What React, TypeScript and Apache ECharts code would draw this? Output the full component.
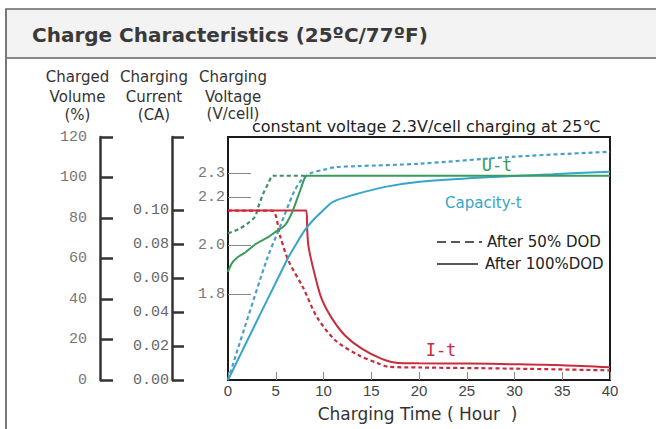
import React, { useEffect, useRef } from "react";
import * as echarts from "echarts";

// ---- data ----
const voltageTicks = [1.8, 2.0, 2.2, 2.3];
const volumeTicks = [0, 20, 40, 60, 80, 100, 120];
const currentLabels = [0, 0.02, 0.04, 0.06, 0.08, 0.1];
const currentTop = 0.1434;

// U-t (charging voltage, V/cell)
const voltage100: [number, number][] = [
  [0, 1.892], [0.4, 1.927], [1.0, 1.952], [1.8, 1.972], [2.83, 2.005], [4.2, 2.035],
  [4.9, 2.055], [5.97, 2.085], [6.67, 2.134], [7.2, 2.189], [7.7, 2.244],
  [8.06, 2.282], [8.3, 2.289], [40, 2.289],
];
const voltage50: [number, number][] = [
  [0, 2.051], [1.1, 2.068], [2.1, 2.093], [2.83, 2.12], [3.17, 2.16], [3.7, 2.216],
  [4.22, 2.258], [4.57, 2.286], [4.75, 2.289], [8.3, 2.289],
];
// Capacity-t (charged volume, %)
const capacity100: [number, number][] = [
  [0, 0], [6.2, 59.5], [7.0, 66], [8.06, 74.1], [8.93, 79], [10, 84], [11, 88],
  [13.1, 91.4], [16.6, 95.5], [20.1, 97.9], [27.1, 100.1], [34, 101.6], [40, 102.9],
];
const capacity50: [number, number][] = [
  [0, 0], [4.05, 59.3], [5.45, 75.7], [6.84, 92.2], [7.7, 98.8], [8.6, 102],
  [10.2, 104], [11.2, 105.1], [13.5, 105.6], [20, 106.8], [30, 110.3], [40, 112.7],
];
// I-t (charging current, CA)
const current100: [number, number][] = [
  [0, 0.1], [8.2, 0.1], [8.3, 0.088], [8.4, 0.08], [8.6, 0.0737], [9.1, 0.0618],
  [9.8, 0.048], [10.9, 0.0362], [12.25, 0.0263], [14, 0.0185], [16.1, 0.0125],
  [17.8, 0.0101], [20, 0.0099], [25, 0.0097], [30, 0.0093], [35, 0.0087], [40, 0.0075],
];
const current50: [number, number][] = [
  [0, 0.1], [4.55, 0.1], [5.45, 0.085], [6.3, 0.0708], [7.9, 0.0541], [9.3, 0.0373],
  [11.2, 0.0236], [13.65, 0.0147], [15.7, 0.0099], [16.8, 0.0078], [20, 0.0074],
  [30, 0.0067], [40, 0.0057],
];

const RED = "#c92c3c";
const GREEN = "#3a9b5c";
const GREEN_D = "#3f8f62";
const BLUE = "#35a5cb";
const BLUE_D = "#4a9fc9";

export default function App() {
  const ref = useRef<HTMLDivElement>(null);
  useEffect(() => {
    document.body.style.margin = "0";
    const chart = echarts.init(ref.current!, null, { renderer: "svg" });
    const mono = "Liberation Mono";
    const sans = "DejaVu Sans";
    const lineSeries = (data: [number, number][], yAxisIndex: number, color: string, dashed: boolean) => ({
      type: "line",
      yAxisIndex,
      data,
      showSymbol: false,
      symbol: "none",
      smooth: 0.3,
      lineStyle: { color, width: dashed ? 2.2 : 2, type: dashed ? [4, 3] : "solid" },
      z: dashed ? 2 : 3,
    });
    const txt = (text: string, x: number, y: number, o: any = {}) => ({
      type: "text",
      x,
      y,
      style: {
        text,
        fontFamily: sans,
        fontSize: 15,
        fill: "#333",
        align: "center",
        verticalAlign: "middle",
        ...o,
      },
    });
    chart.setOption({
      animation: false,
      grid: {
        left: 228,
        top: 137,
        right: 46,
        bottom: 49,
        show: true,
        borderColor: "#1a1a1a",
        borderWidth: 2,
        backgroundColor: "transparent",
      },
      xAxis: {
        type: "value",
        min: 0,
        max: 40,
        interval: 5,
        axisLine: { show: true, lineStyle: { color: "#1a1a1a", width: 2 } },
        axisTick: { show: true, inside: true, length: 8, lineStyle: { color: "#888", width: 1 } },
        axisLabel: { margin: 3, fontSize: 15, color: "#444", fontFamily: "Liberation Sans" },
        splitLine: { show: false },
      },
      yAxis: [
        {
          type: "value",
          min: 1.445,
          max: 2.449,
          position: "left",
          axisLine: { show: false },
          axisTick: {
            show: true,
            inside: true,
            length: 23,
            customValues: voltageTicks,
            lineStyle: { color: "#888", width: 1 },
          },
          axisLabel: {
            customValues: voltageTicks,
            formatter: (v: number) => v.toFixed(1),
            margin: 3,
            fontFamily: mono,
            fontSize: 15,
            color: "#777",
          },
          splitLine: { show: false },
        },
        {
          type: "value",
          min: 0,
          max: 120,
          interval: 20,
          position: "left",
          offset: 128,
          axisLine: { show: true, onZero: false, lineStyle: { color: "#333", width: 2.5 } },
          axisTick: {
            show: true,
            inside: true,
            length: 13,
            customValues: volumeTicks,
            lineStyle: { color: "#333", width: 2.5 },
          },
          axisLabel: {
            customValues: volumeTicks,
            margin: 13,
            fontFamily: mono,
            fontSize: 15,
            color: "#777",
          },
          splitLine: { show: false },
        },
        {
          type: "value",
          min: 0,
          max: currentTop,
          position: "left",
          offset: 56,
          axisLine: { show: true, onZero: false, lineStyle: { color: "#333", width: 2.5 } },
          axisTick: {
            show: true,
            inside: true,
            length: 12,
            customValues: [...currentLabels, currentTop],
            lineStyle: { color: "#333", width: 2.5 },
          },
          axisLabel: {
            customValues: currentLabels,
            formatter: (v: number) => v.toFixed(2),
            margin: 3,
            fontFamily: mono,
            fontSize: 15,
            color: "#666",
          },
          splitLine: { show: false },
        },
      ],
      series: [
        lineSeries(current50, 2, RED, true),
        lineSeries(capacity50, 1, BLUE_D, true),
        lineSeries(voltage50, 0, GREEN_D, true),
        lineSeries(current100, 2, RED, false),
        lineSeries(capacity100, 1, BLUE, false),
        lineSeries(voltage100, 0, GREEN, false),
      ],
      graphic: [
        {
          type: "rect",
          shape: { x: 6, y: 9, width: 660, height: 49 },
          style: { fill: "#f2f3f2", stroke: "#666", lineWidth: 1.5 },
        },
        {
          type: "line",
          shape: { x1: 6, y1: 9, x2: 6, y2: 440 },
          style: { stroke: "#777", lineWidth: 2 },
        },
        txt("Charge Characteristics (25ºC/77ºF)", 32, 35, {
          align: "left",
          fontWeight: "bold",
          fontSize: 20,
          fill: "#3a3a3a",
        }),
        txt("Charged", 77.5, 77),
        txt("Volume", 77.5, 97),
        txt("(%)", 77.5, 115),
        txt("Charging", 154, 77),
        txt("Current", 154, 97),
        txt("(CA)", 154, 115),
        txt("Charging", 233, 77),
        txt("Voltage", 233, 97),
        txt("(V/cell)", 233, 114),
        txt("constant voltage 2.3V/cell charging at 25℃", 252, 126, {
          align: "left",
          fontSize: 16,
          fill: "#222",
        }),
        txt("U-t", 497, 165, { fontFamily: "DejaVu Sans Mono", fontSize: 17, fill: GREEN }),
        txt("Capacity-t", 445, 203, { align: "left", fill: BLUE }),
        txt("I-t", 441, 350, { fontFamily: "DejaVu Sans Mono", fontSize: 17, fill: RED }),
        {
          type: "line",
          shape: { x1: 437, y1: 242, x2: 482, y2: 242 },
          style: { stroke: "#222", lineWidth: 1.5, lineDash: [9, 5] },
        },
        txt("After 50% DOD", 487, 242, { align: "left", fill: "#222" }),
        {
          type: "line",
          shape: { x1: 437, y1: 264, x2: 478, y2: 264 },
          style: { stroke: "#222", lineWidth: 1.5 },
        },
        txt("After 100%DOD", 485, 264, { align: "left", fill: "#222" }),
        txt("Charging Time ( Hour  )", 417.5, 414, { fontSize: 17, fill: "#333" }),
      ],
    });
    return () => chart.dispose();
  }, []);
  return <div ref={ref} style={{ width: 656, height: 429 }} />;
}
